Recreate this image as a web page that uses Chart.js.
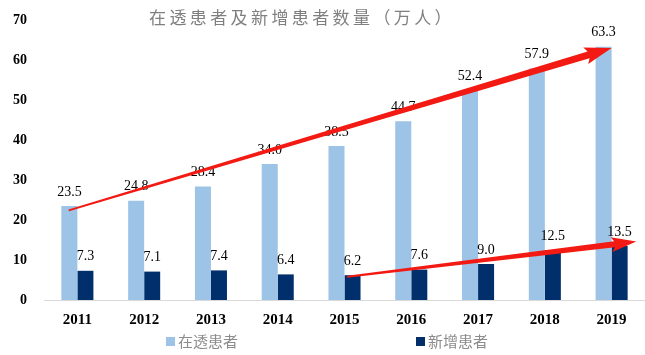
<!DOCTYPE html>
<html>
<head>
<meta charset="utf-8">
<script src="https://cdn.jsdelivr.net/npm/chart.js@4/dist/chart.umd.min.js"></script>
<style>
  html, body { margin: 0; padding: 0; background: #fff; }
  #wrap { position: relative; width: 645px; height: 355px; }
  #legend { position: absolute; left: 0; top: 331px; width: 645px; height: 20px;
            font-family: "Noto Sans CJK SC", sans-serif; font-size: 15px; color: #8c8c8c; }
  .item { position: absolute; top: 0; line-height: 20px; white-space: nowrap; }
  .box { display: inline-block; width: 9px; height: 9px; margin-right: 3px; vertical-align: 1px; }
</style>
</head>
<body>
<div id="wrap">
  <canvas id="c" width="645" height="355"></canvas>
  <div id="legend"></div>
</div>
<script>
// ---- data ----
const years = ['2011', '2012', '2013', '2014', '2015', '2016', '2017', '2018', '2019'];
const onDialysis = [23.5, 24.8, 28.4, 34.0, 38.5, 44.7, 52.4, 57.9, 63.3];
const newPatients = [7.3, 7.1, 7.4, 6.4, 6.2, 7.6, 9.0, 12.5, 13.5];
const seriesNames = ['在透患者', '新增患者'];
const chartTitle = '在透患者及新增患者数量（万人）';
const yMin = 0, yMax = 70, yStep = 10;
// trend arrows in data coordinates [category index, value]
const trendArrowFrom1 = [-0.13, 22.4];
const trendArrowTo1 = [8.0, 63.0];
const trendArrowFrom2 = [4.04, 5.8];
const trendArrowTo2 = [8.37, 14.6];

const colors = ['#9dc3e6', '#002f6c'];

const titlePlugin = {
  id: 'titleText',
  afterDraw(chart) {
    const ctx = chart.ctx;
    ctx.save();
    ctx.font = '17px "Noto Sans CJK SC"';
    ctx.letterSpacing = '3.4px';
    ctx.fillStyle = '#7f7f7f';
    ctx.textAlign = 'center';
    ctx.textBaseline = 'middle';
    ctx.fillText(chartTitle, 302, 18);
    ctx.restore();
  }
};

function drawArrow(ctx, x0, y0, x1, y1, w0, w1, headLen, headW) {
  const dx = x1 - x0, dy = y1 - y0;
  const len = Math.hypot(dx, dy);
  const ux = dx / len, uy = dy / len;
  const nx = -uy, ny = ux;
  const bx = x1 - ux * headLen, by = y1 - uy * headLen;
  ctx.beginPath();
  ctx.moveTo(x0 + nx * w0 / 2, y0 + ny * w0 / 2);
  ctx.lineTo(bx + nx * w1 / 2, by + ny * w1 / 2);
  ctx.lineTo(bx + nx * headW / 2 - ux * 3, by + ny * headW / 2 - uy * 3);
  ctx.lineTo(x1, y1);
  ctx.lineTo(bx - nx * headW / 2 - ux * 3, by - ny * headW / 2 - uy * 3);
  ctx.lineTo(bx - nx * w1 / 2, by - ny * w1 / 2);
  ctx.lineTo(x0 - nx * w0 / 2, y0 - ny * w0 / 2);
  ctx.closePath();
  ctx.fill();
}

const labelsAndArrows = {
  id: 'labelsAndArrows',
  afterDatasetsDraw(chart) {
    const ctx = chart.ctx;
    ctx.save();
    ctx.font = '14px "Liberation Serif"';
    ctx.fillStyle = '#000';
    ctx.textAlign = 'center';
    ctx.textBaseline = 'bottom';
    chart.data.datasets.forEach((ds, i) => {
      chart.getDatasetMeta(i).data.forEach((el, j) => {
        ctx.fillText(ds.data[j].toFixed(1), el.x, el.y - 7);
      });
    });
    const xs = chart.scales.x, ys = chart.scales.y;
    const px = v => xs.getPixelForValue(v);
    const py = v => ys.getPixelForValue(v);
    ctx.fillStyle = '#f21a12';
    drawArrow(ctx, px(trendArrowFrom1[0]), py(trendArrowFrom1[1]),
              px(trendArrowTo1[0]), py(trendArrowTo1[1]), 2, 7, 24, 17);
    drawArrow(ctx, px(trendArrowFrom2[0]), py(trendArrowFrom2[1]),
              px(trendArrowTo2[0]), py(trendArrowTo2[1]), 2, 6, 22, 15);
    ctx.restore();
  }
};

const chart = new Chart(document.getElementById('c'), {
  type: 'bar',
  data: {
    labels: years,
    datasets: [
      { label: seriesNames[0], data: onDialysis, backgroundColor: colors[0] },
      { label: seriesNames[1], data: newPatients, backgroundColor: colors[1] }
    ]
  },
  options: {
    responsive: false,
    animation: false,
    layout: { padding: { top: 20, bottom: 23, left: 4, right: 0 } },
    datasets: { bar: { categoryPercentage: 0.48, barPercentage: 1.0 } },
    plugins: { legend: { display: false }, tooltip: { enabled: false } },
    scales: {
      x: {
        grid: { display: false },
        border: { display: true, color: '#d9d9d9', width: 1 },
        ticks: { color: '#000', padding: 3, font: { family: 'Liberation Serif', size: 15, weight: 'bold' } }
      },
      y: {
        min: yMin, max: yMax,
        grid: { display: false },
        border: { display: false },
        ticks: { stepSize: yStep, color: '#000', padding: 9, font: { family: 'Liberation Serif', size: 14, weight: 'bold' } }
      }
    }
  },
  plugins: [titlePlugin, labelsAndArrows]
});

// HTML legend
const legend = document.getElementById('legend');
const legendX = [166, 416];
seriesNames.forEach((name, i) => {
  const it = document.createElement('div');
  it.className = 'item';
  it.style.left = legendX[i] + 'px';
  it.innerHTML = '<span class="box" style="background:' + colors[i] + '"></span>' + name;
  legend.appendChild(it);
});
</script>
</body>
</html>
